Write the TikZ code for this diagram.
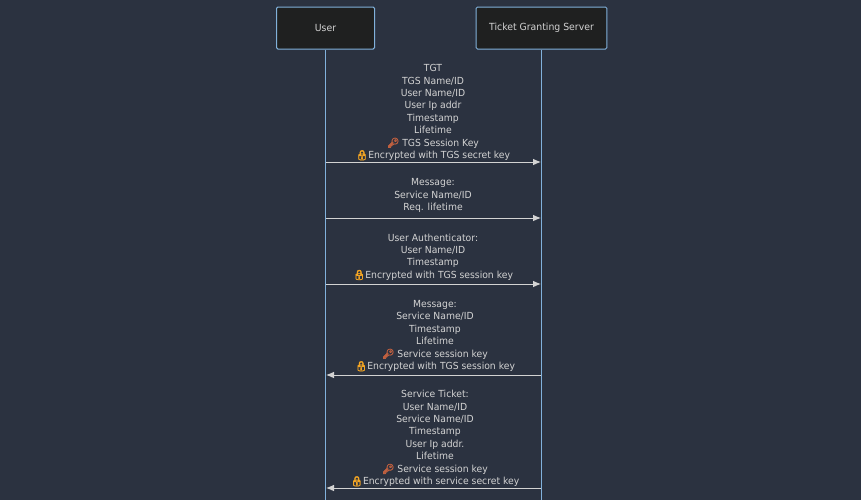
\documentclass[tikz,border=0pt]{standalone}
\usepackage{fontspec}
\setmainfont{DejaVu Sans}[FakeStretch=0.95]
\newfontfamily\emojifont{Noto Emoji}[FakeBold=4]
\usetikzlibrary{arrows.meta}
\definecolor{page}{HTML}{2B3240}
\definecolor{actorfill}{HTML}{1F2020}
\definecolor{actorline}{HTML}{81B1DB}
\definecolor{signal}{HTML}{D3D3D3}
\definecolor{keycol}{HTML}{C0603F}
\definecolor{lockcol}{HTML}{F5A623}
\newcommand{\keyicon}{{\emojifont\color{keycol}\symbol{"1F511}}}
\newcommand{\lockicon}{{\emojifont\color{lockcol}\symbol{"1F512}}}

\begin{document}
\begin{tikzpicture}[x=0.75pt,y=-0.75pt]
        % sizes, in pixels
        \tikzstyle{block} = [draw=actorline,fill=actorfill,rectangle,rounded corners=1pt,line width=0.75pt,text=signal,minimum height=31.5pt,font=\fontsize{7.35}{9}\selectfont];
        \tikzstyle{life} = [draw=actorline,line width=0.75pt];
        \tikzstyle{msg} = [draw=signal,line width=0.75pt,-{Latex[length=6pt,width=5pt]}];
        \tikzstyle{label} = [text=signal,align=center,inner sep=0pt,anchor=center,font=\fontsize{7.3}{9.32}\selectfont];

        \fill[page] (0,0) rectangle (861,500);
        \useasboundingbox (0,0) rectangle (861,500);

        \node[block,minimum width=73.5pt] (user) at (325.5,28) {User};
        \node[block,minimum width=98pt] (tgs) at (541.5,28) {Ticket Granting Server};

        \coordinate (user_end) at (325.5,500);
        \coordinate (tgs_end) at (541.5,500);
        \draw[life] (user) -- (user_end);
        \draw[life] (tgs) -- (tgs_end);

        \coordinate (user_a) at (326,162);
        \coordinate (tgs_a) at (541,162);
        \coordinate (user_b) at (326,218);
        \coordinate (tgs_b) at (541,218);
        \coordinate (user_c) at (326,284);
        \coordinate (tgs_c) at (541,284);
        \coordinate (user_d) at (326,375);
        \coordinate (tgs_d) at (541,375);
        \coordinate (user_e) at (326,488);
        \coordinate (tgs_e) at (541,488);

        \node[label] (tgt) at (433,112.5) {TGT\\TGS Name/ID\\User Name/ID\\User Ip addr\\Timestamp\\Lifetime\\\keyicon{} TGS Session Key\\\lockicon{}Encrypted with TGS secret key};
        \node[label] (request) at (433,195.5) {Message:\\Service Name/ID\\Req. lifetime};
        \node[label] (authenticator) at (433,257) {User Authenticator:\\User Name/ID\\Timestamp\\\lockicon{}Encrypted with TGS session key};
        \node[label] (reply) at (435,336) {Message:\\Service Name/ID\\Timestamp\\Lifetime\\\keyicon{} Service session key\\\lockicon{}Encrypted with TGS session key};
        \node[label] (ticket) at (435,438.5) {Service Ticket:\\User Name/ID\\Service Name/ID\\Timestamp\\User Ip addr.\\Lifetime\\\keyicon{} Service session key\\\lockicon{}Encrypted with service secret key};

        \draw[msg] (user_a) -- (tgs_a);
        \draw[msg] (user_b) -- (tgs_b);
        \draw[msg] (user_c) -- (tgs_c);
        \draw[msg] (tgs_d) -- (user_d);
        \draw[msg] (tgs_e) -- (user_e);
    \end{tikzpicture}
\end{document}
